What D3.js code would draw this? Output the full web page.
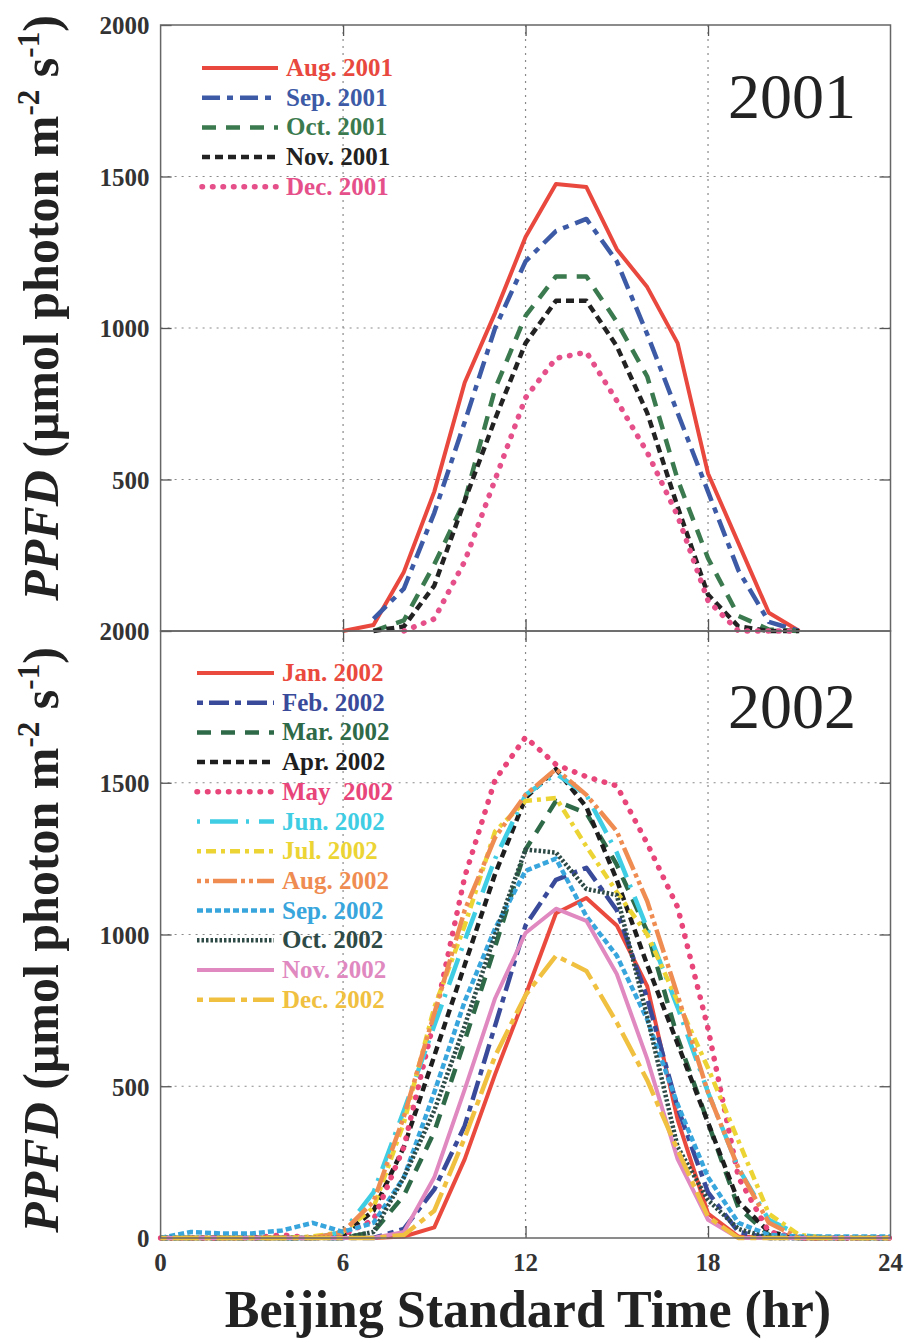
<!DOCTYPE html>
<html>
<head>
<meta charset="utf-8">
<script src="https://cdn.jsdelivr.net/npm/d3@7/dist/d3.min.js"></script>
<style>
  html, body { margin: 0; padding: 0; background: #fff; }
  svg { display: block; }
  text { font-family: "Liberation Serif", "Times New Roman", serif; }
</style>
</head>
<body>
<svg id="chart" width="908" height="1343"></svg>
<script>
// Hour of day (Beijing Standard Time)
const hours = [0,1,2,3,4,5,6,7,8,9,10,11,12,13,14,15,16,17,18,19,20,21,22,23,24];

// Monthly mean diurnal PPFD, 2001 (null = not recorded)
const labels2001 = ["Aug. 2001", "Sep. 2001", "Oct. 2001", "Nov. 2001", "Dec. 2001"];
const aug2001 = [null,null,null,null,null,null,0,20,195,460,820,1050,1300,1475,1465,1260,1135,950,520,290,60,0,null,null,null];
const sep2001 = [null,null,null,null,null,null,null,40,140,390,690,1000,1220,1320,1360,1220,980,720,460,200,30,0,null,null,null];
const oct2001 = [null,null,null,null,null,null,null,0,35,220,430,800,1040,1170,1170,1020,840,500,240,50,5,0,null,null,null];
const nov2001 = [null,null,null,null,null,null,null,0,15,150,430,700,950,1090,1090,940,720,410,120,15,0,0,null,null,null];
const dec2001 = [null,null,null,null,null,null,null,null,0,40,230,500,770,900,920,760,590,380,100,0,0,0,null,null,null];

// Monthly mean diurnal PPFD, 2002
const labels2002 = ["Jan. 2002", "Feb. 2002", "Mar. 2002", "Apr. 2002", "May  2002", "Jun. 2002",
                    "Jul. 2002", "Aug. 2002", "Sep. 2002", "Oct. 2002", "Nov. 2002", "Dec. 2002"];
const jan2002 = [0,0,0,0,0,0,0,0,5,35,260,540,800,1070,1120,1030,830,390,80,5,0,0,0,0,0];
const feb2002 = [0,0,0,0,0,0,0,0,30,160,370,700,1030,1180,1220,1080,790,430,150,20,0,0,0,0,0];
const mar2002 = [0,0,0,0,0,0,0,20,140,350,650,960,1280,1440,1400,1230,1010,660,380,100,10,0,0,0,0];
const apr2002 = [0,0,0,0,0,0,10,90,300,600,900,1200,1450,1545,1420,1180,900,640,380,120,20,0,0,0,0];
const may2002 = [0,0,0,0,10,0,10,60,300,720,1190,1510,1650,1560,1520,1490,1300,1090,690,200,20,0,0,0,0];
const jun2002 = [0,0,0,0,0,0,20,150,420,700,980,1250,1460,1530,1460,1270,1020,760,480,230,60,10,0,0,0];
const jul2002 = [0,0,0,0,0,5,20,100,380,760,1030,1340,1440,1450,1290,1140,1000,780,560,320,80,10,0,0,0];
const aug2002 = [0,0,0,0,0,0,20,120,400,740,1080,1320,1460,1545,1460,1340,1110,800,480,230,50,0,0,0,0];
const sep2002 = [0,20,15,15,25,50,20,50,200,480,780,1020,1210,1250,1060,930,720,440,200,50,10,5,5,5,5];
const oct2002 = [0,0,0,0,0,0,0,20,200,420,700,1000,1280,1270,1150,1130,730,300,125,30,0,0,0,0,0];
const nov2002 = [0,0,0,0,0,0,0,0,20,200,490,790,1005,1085,1045,870,590,260,60,0,0,0,0,0,0];
const dec2002 = [0,0,0,0,0,0,0,0,10,90,330,600,800,930,880,710,520,290,70,0,0,0,0,0,0];

// Axis ticks
const xTicks = [0, 6, 12, 18, 24];
const yTicksTop = [500, 1000, 1500, 2000];
const yTicksBottom = [0, 500, 1000, 1500, 2000];

// Line styles for each month
const styles2001 = [
  { color: "#e8483e", dash: null,          width: 4,   cap: "butt" },
  { color: "#3c5aa6", dash: "18,7,6,7",    width: 4.5, cap: "butt" },
  { color: "#3b7a4e", dash: "14,10",       width: 4.5, cap: "butt" },
  { color: "#222222", dash: "8,5",         width: 4.5, cap: "butt" },
  { color: "#e6508a", dash: "0.5,10",      width: 5.5, cap: "round" }
];
const styles2002 = [
  { color: "#ea4a3e", dash: null,          width: 4,   cap: "butt" },
  { color: "#3a4a9a", dash: "6,6,20,6",    width: 4.5, cap: "butt" },
  { color: "#2f6a48", dash: "14,10",       width: 4.5, cap: "butt" },
  { color: "#1e1e1e", dash: "8,5",         width: 4.5, cap: "butt" },
  { color: "#e8457a", dash: "0.5,10",      width: 5.5, cap: "round" },
  { color: "#3fcde4", dash: "3,10,28,8",   width: 4.5, cap: "butt" },
  { color: "#ecd435", dash: "4,5,10,5",    width: 4.5, cap: "butt" },
  { color: "#ef8c52", dash: "4,4,4,4,24,4",width: 4.5, cap: "butt" },
  { color: "#38a6dc", dash: "6,3",         width: 4.5, cap: "butt" },
  { color: "#2e4a46", dash: "2.5,2",       width: 4.5, cap: "butt" },
  { color: "#e088c0", dash: null,          width: 4,   cap: "butt" },
  { color: "#f0c040", dash: "6,6,26,6",    width: 4.5, cap: "butt" }
];

const series2001 = [aug2001, sep2001, oct2001, nov2001, dec2001];
const series2002 = [jan2002, feb2002, mar2002, apr2002, may2002, jun2002,
                    jul2002, aug2002, sep2002, oct2002, nov2002, dec2002];

const svg = d3.select("#chart");
const left = 160.6, right = 890.5;
const x = d3.scaleLinear().domain([0, 24]).range([left, right]);

const panels = [
  { top: 25,  bottom: 631,  ticks: yTicksTop,    labels: labels2001, series: series2001, styles: styles2001,
    year: "2001", legendY: 68, legendX0: 202, legendX1: 278, textX: 286 },
  { top: 631, bottom: 1238, ticks: yTicksBottom, labels: labels2002, series: series2002, styles: styles2002,
    year: "2002", legendY: 673, legendX0: 197, legendX1: 274, textX: 282 }
];

panels.forEach((p, pi) => {
  const y = d3.scaleLinear().domain([0, 2000]).range([p.bottom, p.top]);
  const g = svg.append("g");

  // dotted grid
  const grid = g.append("g").attr("stroke", "#8a8a8a").attr("stroke-width", 1.2)
    .attr("stroke-dasharray", "2,5");
  [6, 12, 18].forEach(h => grid.append("line")
    .attr("x1", x(h)).attr("x2", x(h)).attr("y1", p.top).attr("y2", p.bottom));
  [500, 1000, 1500].forEach(v => grid.append("line")
    .attr("x1", left).attr("x2", right).attr("y1", y(v)).attr("y2", y(v)));

  // inward ticks on all four sides
  const yAxisL = d3.axisLeft(y).tickValues(p.ticks).tickSize(-11).tickPadding(11).tickFormat(d3.format("d"));
  const gl = g.append("g").attr("transform", `translate(${left},0)`).call(yAxisL);
  gl.select(".domain").remove();
  gl.selectAll("line").attr("stroke", "#555").attr("stroke-width", 1.3);
  gl.selectAll("text").attr("fill", "#333").attr("font-size", 25).attr("font-weight", "bold")
    .attr("font-family", "Liberation Serif, serif").attr("dy", "0.35em");

  const yAxisR = d3.axisRight(y).tickValues([500, 1000, 1500]).tickSize(-11).tickFormat("");
  const gr = g.append("g").attr("transform", `translate(${right},0)`).call(yAxisR);
  gr.select(".domain").remove();
  gr.selectAll("line").attr("stroke", "#555").attr("stroke-width", 1.3);

  const xAxisT = d3.axisTop(x).tickValues([6, 12, 18]).tickSize(-11).tickFormat("");
  const gt = g.append("g").attr("transform", `translate(0,${p.top})`).call(xAxisT);
  gt.select(".domain").remove();
  gt.selectAll("line").attr("stroke", "#555").attr("stroke-width", 1.3);

  const xAxisB = d3.axisBottom(x).tickValues([6, 12, 18]).tickSize(-12).tickFormat("");
  const gb = g.append("g").attr("transform", `translate(0,${p.bottom})`).call(xAxisB);
  gb.select(".domain").remove();
  gb.selectAll("line").attr("stroke", "#555").attr("stroke-width", 1.3);

  // data lines
  const line = d3.line()
    .defined(d => d[1] !== null)
    .x(d => x(d[0]))
    .y(d => y(d[1]));

  p.series.forEach((vals, i) => {
    const st = p.styles[i];
    g.append("path")
      .datum(hours.map((h, k) => [h, vals[k]]))
      .attr("d", line)
      .attr("fill", "none")
      .attr("stroke", st.color)
      .attr("stroke-width", st.width)
      .attr("stroke-linecap", st.cap)
      .attr("stroke-linejoin", "round")
      .attr("stroke-dasharray", st.dash);
  });

  // frame
  g.append("rect").attr("x", left).attr("y", p.top)
    .attr("width", right - left).attr("height", p.bottom - p.top)
    .attr("fill", "none").attr("stroke", "#666").attr("stroke-width", 1.5);

  // legend
  const lg = g.append("g");
  p.labels.forEach((name, i) => {
    const st = p.styles[i];
    const ly = p.legendY + i * 29.7;
    lg.append("line")
      .attr("x1", p.legendX0).attr("x2", p.legendX1).attr("y1", ly).attr("y2", ly)
      .attr("stroke", st.color).attr("stroke-width", st.width)
      .attr("stroke-linecap", st.cap)
      .attr("stroke-dasharray", st.dash);
    lg.append("text")
      .attr("x", p.textX).attr("y", ly + 8)
      .attr("fill", st.color)
      .attr("font-size", 25).attr("font-weight", "bold")
      .style("white-space", "pre")
      .attr("xml:space", "preserve")
      .text(name);
  });

  // year label
  g.append("text")
    .attr("x", 792).attr("y", pi === 0 ? 118 : 728)
    .attr("text-anchor", "middle")
    .attr("font-size", 64).attr("fill", "#222")
    .text(p.year);

  // y-axis title
  const cy = pi === 0 ? 308 : 940;
  const yt = g.append("text")
    .attr("transform", `translate(58,${cy}) rotate(-90)`)
    .attr("text-anchor", "middle")
    .attr("font-size", 50).attr("font-weight", "bold").attr("fill", "#222");
  yt.append("tspan").attr("font-style", "italic").text("PPFD");
  yt.append("tspan").text(" (\u03bcmol photon m");
  yt.append("tspan").attr("font-size", 31).attr("dy", -19).text("-2");
  yt.append("tspan").attr("dy", 19).text(" s");
  yt.append("tspan").attr("font-size", 31).attr("dy", -19).text("-1");
  yt.append("tspan").attr("dy", 19).text(")");
});

// x tick labels on the bottom panel
svg.append("g").selectAll("text").data(xTicks).join("text")
  .attr("x", d => x(d)).attr("y", 1271)
  .attr("text-anchor", "middle")
  .attr("font-size", 25).attr("font-weight", "bold").attr("fill", "#333")
  .text(d => d);

// x-axis title
svg.append("text")
  .attr("x", 528).attr("y", 1327)
  .attr("text-anchor", "middle")
  .attr("font-size", 52).attr("font-weight", "bold").attr("fill", "#222")
  .text("Beijing Standard Time (hr)");
</script>
</body>
</html>
